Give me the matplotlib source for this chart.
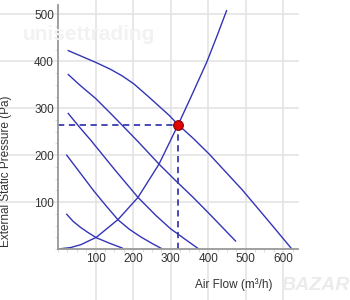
import matplotlib
matplotlib.use("Agg")
import matplotlib.pyplot as plt
from matplotlib.ticker import MultipleLocator

plt.rcParams['font.family'] = ['Liberation Sans', 'DejaVu Sans']

# Fan curves (Air Flow m3/h, Pressure Pa)
fan1_x = [27, 100, 140, 171, 202, 242, 296, 320, 360, 402, 491, 571, 623]
fan1_y = [423, 398, 383, 369, 352, 324, 285, 265, 236, 203, 126, 50, 0]
fan2_x = [27, 60, 100, 140, 184, 213, 269, 313, 360, 402, 473]
fan2_y = [372, 348, 321, 289, 253, 229, 181, 146, 110, 76, 17]
fan3_x = [27, 60, 87, 150, 213, 260, 300, 340, 375]
fan3_y = [289, 257, 232, 170, 110, 72, 43, 20, 0]
fan4_x = [23, 60, 95, 130, 160, 190, 220, 250, 278]
fan4_y = [200, 161, 124, 90, 62, 42, 26, 12, 0]
fan5_x = [23, 40, 60, 80, 102, 135, 171]
fan5_y = [74, 59, 46, 35, 24, 13, 2]

# system curve
sys_x = [0, 33, 60, 102, 160, 213, 269, 320, 353, 396, 424, 449]
sys_y = [0, 3, 9, 25, 63, 110, 181, 265, 322, 398, 455, 508]

# operating point
op_x = 320
op_y = 265

x_ticks = [100, 200, 300, 400, 500, 600]
y_ticks = [100, 200, 300, 400, 500]

fig = plt.figure(figsize=(3.5, 3.0), dpi=100)
ax = fig.add_axes([0.166, 0.17, 0.686, 0.813])
ax.set_xlim(0, 640)
ax.set_ylim(0, 520)

grid_col = '#e4e4e4'
for x in x_ticks:
    ax.axvline(x, ymin=-0.3, ymax=1.1, color=grid_col, lw=1.2, clip_on=False, zorder=0)
for y in y_ticks:
    ax.axhline(y, xmin=-0.3, xmax=1.0, color=grid_col, lw=1.2, clip_on=False, zorder=0)

# watermarks
fig.text(0.065, 0.865, 'unisettrading', fontsize=15, fontweight='bold', color='#f2f2f2', zorder=0.5)
fig.text(0.805, 0.035, 'BAZAR', fontsize=14, fontweight='bold', style='italic', color='#ebebeb', zorder=0.5)

line_col = '#3434b8'
for xs, ys in [(fan1_x, fan1_y), (fan2_x, fan2_y), (fan3_x, fan3_y),
               (fan4_x, fan4_y), (fan5_x, fan5_y), (sys_x, sys_y)]:
    ax.plot(xs, ys, color=line_col, lw=1.0, zorder=2)

dash_col = '#3b3bb0'
ax.plot([0, op_x], [op_y, op_y], color=dash_col, lw=1.3, ls=(0, (3.5, 2.5)), zorder=2)
ax.plot([op_x, op_x], [0, op_y], color=dash_col, lw=1.3, ls=(0, (3.5, 2.5)), zorder=2)
ax.plot([op_x], [op_y], 'o', ms=7, color='#e00000', mec='#8a0000', mew=0.8, zorder=3)

for s in ['top', 'right']:
    ax.spines[s].set_visible(False)
for s in ['left', 'bottom']:
    ax.spines[s].set_color('#999999')
    ax.spines[s].set_linewidth(1.3)

ax.set_xticks(x_ticks)
ax.set_yticks(y_ticks)
ax.xaxis.set_minor_locator(MultipleLocator(25))
ax.yaxis.set_minor_locator(MultipleLocator(25))
ax.tick_params(which='major', length=0, labelsize=8.5, labelcolor='#333333', pad=3)
ax.tick_params(which='minor', length=2.5, color='#dddddd', width=0.8)

ax.set_xlabel('Air Flow (m³/h)', fontsize=8.5, color='#333333')
ax.set_ylabel('External Static Pressure (Pa)', fontsize=8.5, color='#333333')
ax.xaxis.set_label_coords(0.73, -0.12)
ax.yaxis.set_label_coords(-0.19, 0.32)

fig.savefig('out.png', dpi=100)
